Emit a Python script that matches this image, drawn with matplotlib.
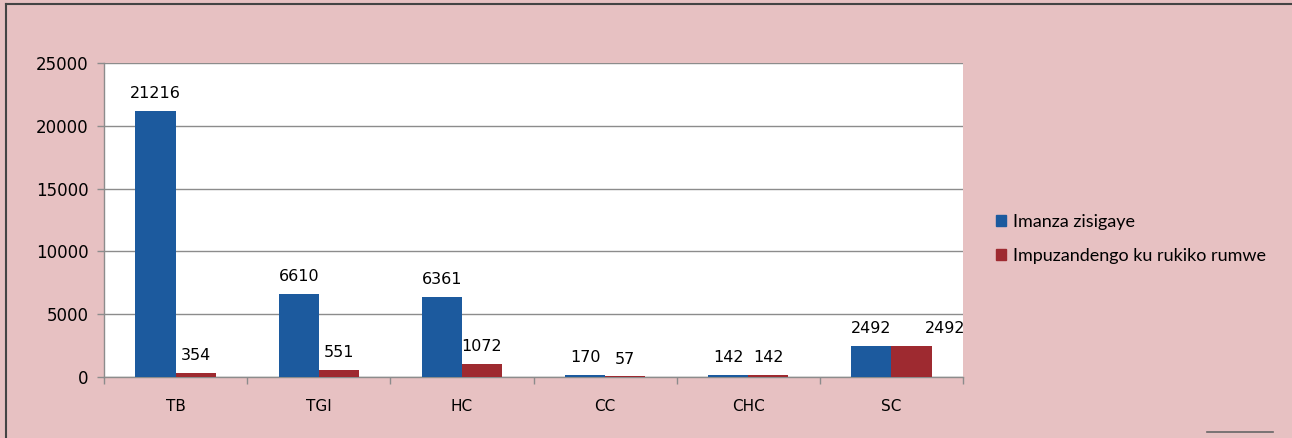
import matplotlib
matplotlib.use("Agg")
import matplotlib.pyplot as plt
from matplotlib.lines import Line2D
import numpy as np

categories = ["TB", "TGI", "HC", "CC", "CHC", "SC"]
series1_name = "Imanza zisigaye"
series2_name = "Impuzandengo ku rukiko rumwe"
series1 = [21216, 6610, 6361, 170, 142, 2492]
series2 = [354, 551, 1072, 57, 142, 2492]
yticks = [0, 5000, 10000, 15000, 20000, 25000]

BG = "#E7C1C2"
BLUE = "#1C5A9E"
RED = "#9E2A30"
NUMFONT = ['DejaVu Sans']

plt.rcParams['font.family'] = ['Lato', 'DejaVu Sans']

fig = plt.figure(figsize=(12.92, 4.38), dpi=100)
fig.patch.set_facecolor(BG)
ax = fig.add_axes([104/1292, 61/438, (963-104)/1292, (377-63)/438])
ax.set_facecolor("white")

x = np.arange(len(categories))
w = 0.28
b1 = ax.bar(x - w/2, series1, w, color=BLUE, zorder=3)
b2 = ax.bar(x + w/2, series2, w, color=RED, zorder=3)

for rect, v in zip(b1, series1):
    ax.annotate(str(v), (rect.get_x() + rect.get_width()/2, v), xytext=(0, 7),
                textcoords="offset points", ha="center", va="bottom",
                fontsize=11.5, family=NUMFONT, zorder=4)
for i, (rect, v) in enumerate(zip(b2, series2)):
    dx = 24 if i == len(series2) - 1 else 0
    ax.annotate(str(v), (rect.get_x() + rect.get_width()/2, v), xytext=(dx, 7),
                textcoords="offset points", ha="center", va="bottom",
                fontsize=11.5, family=NUMFONT, zorder=4, annotation_clip=False)

ax.set_xlim(-0.5, len(categories) - 0.5)
ax.set_ylim(0, 25000)
ax.set_yticks(yticks)
ax.set_yticklabels([str(t) for t in yticks], fontsize=12, family=NUMFONT)
ax.yaxis.grid(True, color="#8C8C8C", linewidth=1.0, zorder=0)
ax.set_xticks(x)
ax.set_xticklabels(categories, fontsize=11, family=NUMFONT)
ax.tick_params(axis="x", length=0, pad=16)
ax.set_xticks(np.arange(-0.5, len(categories) + 0.5, 1), minor=True)
ax.tick_params(axis="x", which="minor", length=5, color="#8C8C8C", width=1)
ax.tick_params(axis="y", length=5, color="#8C8C8C", width=1, pad=6)
for s in ["top", "right"]:
    ax.spines[s].set_visible(False)
for s in ["left", "bottom"]:
    ax.spines[s].set_color("#8C8C8C")
    ax.spines[s].set_linewidth(1)

handles = [plt.Rectangle((0, 0), 1, 1, color=BLUE), plt.Rectangle((0, 0), 1, 1, color=RED)]
leg = fig.legend(handles, [series1_name, series2_name], loc="upper left",
                 bbox_to_anchor=(989/1292, 1 - 207/438), frameon=False, fontsize=13,
                 handlelength=0.55, handleheight=0.55, handletextpad=0.4, labelspacing=1.0,
                 borderaxespad=0, borderpad=0.4)

# figure border lines
fig.add_artist(Line2D([6/1292, 6/1292], [0, 1 - 4/438], transform=fig.transFigure, color="#444444", lw=1.5))
fig.add_artist(Line2D([6/1292, 1], [1 - 4/438, 1 - 4/438], transform=fig.transFigure, color="#444444", lw=1.5))
fig.add_artist(Line2D([1207/1292, 1273/1292], [1 - 432/438, 1 - 432/438], transform=fig.transFigure, color="#666666", lw=1.2))

fig.savefig("out.png", dpi=100, facecolor=fig.get_facecolor())
